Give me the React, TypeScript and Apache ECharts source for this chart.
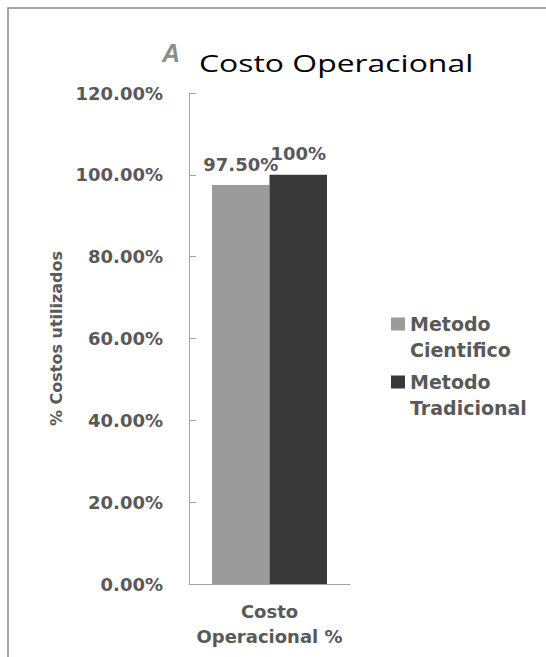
import React, { useEffect, useRef } from "react";
import * as echarts from "echarts";

// Chart content
const chartTitle = "Costo Operacional";
const categories = ["Costo\nOperacional %"];
const seriesNames = ["Metodo\nCientifico", "Metodo\nTradicional"];
const metodoCientifico = [0.975];
const metodoTradicional = [1.0];
const labelDecimals = [2, 0];
const yMin = 0;
const yMax = 1.2;
const yInterval = 0.2;
const yAxisTitle = "% Costos utilizados";

const seriesColors = ["#9b9b9b", "#393939"];
const textGray = "#595959";
const axisGray = "#a3a3a3";
const boldFont = "DejaVu Sans";

export default function App() {
  const ref = useRef<HTMLDivElement>(null);

  useEffect(() => {
    if (!ref.current) return;
    const chart = echarts.init(ref.current, null, { renderer: "svg" });

    const seriesData = [metodoCientifico, metodoTradicional];

    chart.setOption({
      animation: false,
      backgroundColor: "#ffffff",
      graphic: [
        {
          type: "rect",
          silent: true,
          shape: { x: 8, y: 8, width: 700, height: 800 },
          style: { fill: "none", stroke: "#8a8a8a", lineWidth: 1.5 },
        },
        {
          type: "text",
          silent: true,
          x: 162,
          y: 52.5,
          style: {
            text: "A",
            fontFamily: "Liberation Sans",
            fontWeight: "bold",
            fontStyle: "italic",
            fontSize: 25,
            fill: "#8c8c8c",
            align: "left",
            verticalAlign: "middle",
          },
        },
        {
          type: "text",
          silent: true,
          x: 199,
          y: 62.5,
          scaleX: 1.33,
          style: {
            text: chartTitle,
            fontFamily: "Open Sans",
            fontSize: 24,
            fill: "#000000",
            align: "left",
            verticalAlign: "middle",
          },
        },
      ],
      legend: {
        orient: "vertical",
        left: 391,
        top: 285,
        padding: 0,
        itemWidth: 14,
        itemHeight: 13,
        itemGap: -20,
        icon: "rect",
        data: seriesNames,
        // leading blank line keeps the swatch level with the first text line
        formatter: (name: string) => "\n" + name,
        textStyle: {
          fontFamily: boldFont,
          fontWeight: "bold",
          fontSize: 19,
          color: textGray,
          lineHeight: 26,
        },
      },
      grid: { left: 189, top: 93, width: 161, height: 491, containLabel: false },
      xAxis: {
        type: "category",
        data: categories,
        axisLine: { show: true, lineStyle: { color: axisGray, width: 1 } },
        axisTick: { show: false },
        axisLabel: {
          interval: 0,
          margin: 15,
          fontFamily: boldFont,
          fontWeight: "bold",
          fontSize: 18,
          lineHeight: 25,
          color: textGray,
        },
      },
      yAxis: {
        type: "value",
        min: yMin,
        max: yMax,
        interval: yInterval,
        name: yAxisTitle,
        nameLocation: "middle",
        nameGap: 125,
        nameTextStyle: {
          fontFamily: boldFont,
          fontWeight: "bold",
          fontSize: 16,
          color: textGray,
        },
        axisLine: { show: true, lineStyle: { color: axisGray, width: 1 } },
        axisTick: { show: true, inside: true, length: 7, lineStyle: { color: axisGray } },
        splitLine: { show: false },
        axisLabel: {
          margin: 26,
          fontFamily: boldFont,
          fontWeight: "bold",
          fontSize: 18,
          color: textGray,
          formatter: (v: number) => (v * 100).toFixed(2) + "%",
        },
      },
      series: seriesNames.map((name, i) => ({
        name,
        type: "bar",
        data: seriesData[i],
        barWidth: 57.5,
        barGap: "0%",
        itemStyle: { color: seriesColors[i] },
        label: {
          show: true,
          position: "top",
          distance: 12,
          fontFamily: boldFont,
          fontWeight: "bold",
          fontSize: 18,
          color: textGray,
          formatter: (p: any) => (p.value * 100).toFixed(labelDecimals[i]) + "%",
        },
      })),
    });

    return () => chart.dispose();
  }, []);

  return (
    <div
      ref={ref}
      style={{ position: "absolute", left: 0, top: 0, width: 546, height: 657 }}
    />
  );
}
